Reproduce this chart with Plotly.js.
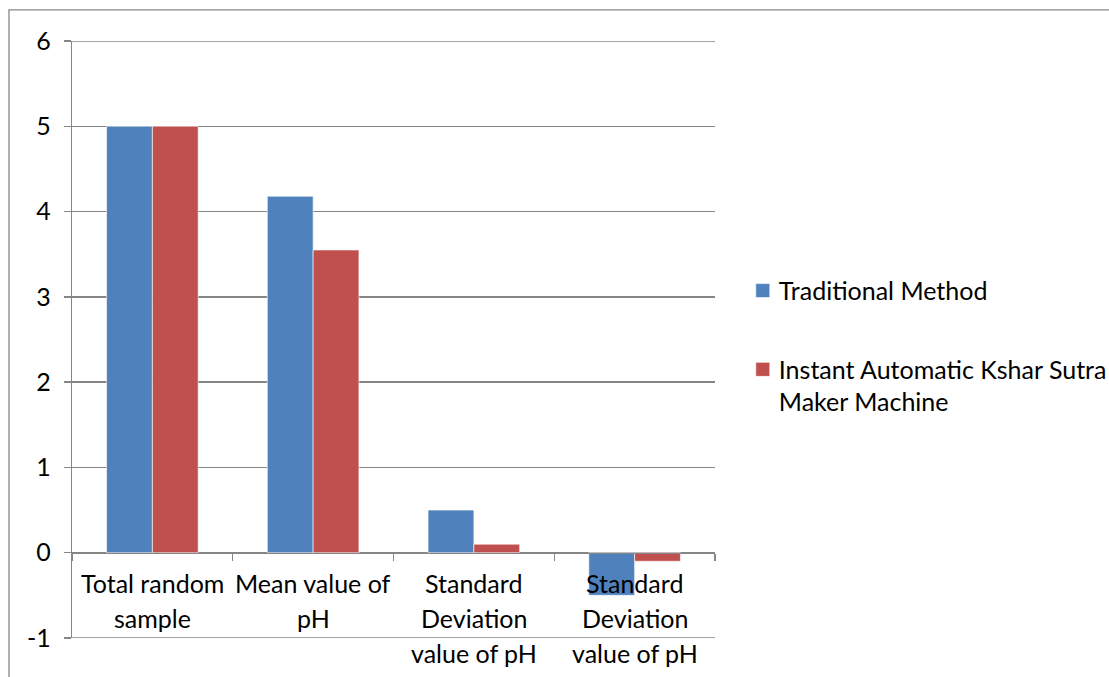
<!DOCTYPE html>
<html>
<head>
<meta charset="utf-8">
<script src="https://cdn.plot.ly/plotly-3.0.1.min.js"></script>
<style>html,body{margin:0;padding:0;background:#fff;}#chart{width:1109px;height:677px;}</style>
</head>
<body>
<div id="chart"></div>
<script>
const categories = ["Total random sample", "Mean value of pH", "Standard Deviation value of pH (1)", "Standard Deviation value of pH (2)"];
const categoryLabelLines = [["Total random", "sample"], ["Mean value of", "pH"], ["Standard", "Deviation", "value of pH"], ["Standard", "Deviation", "value of pH"]];
const traditional = [5, 4.18, 0.5, -0.5];
const instant = [5, 3.55, 0.1, -0.1];
const seriesNames = ["Traditional Method", "Instant Automatic Kshar Sutra<br>Maker Machine"];
const yTicks = [-1, 0, 1, 2, 3, 4, 5, 6];
const yMin = -1, yMax = 6;

const FONT = "Lato, 'Open Sans', sans-serif";
const FS = 25;
const GRID = "#868686";

const traces = [
  {type: "bar", x: categories, y: traditional, name: seriesNames[0], legendgroup: "a",
   marker: {color: "#4F81BD", line: {color: "rgba(255,255,255,0.6)", width: 1}}},
  {type: "bar", x: categories, y: instant, name: seriesNames[1], legendgroup: "b",
   marker: {color: "#C0504D", line: {color: "rgba(255,255,255,0.6)", width: 1}}}
];

const annotations = [];
categories.forEach((c, i) => {
  categoryLabelLines[i].forEach((line, k) => {
    annotations.push({
      x: c, y: 0, xref: "x", yref: "y", text: line, showarrow: false,
      yanchor: "top", yshift: -13 - k * 35, font: {family: FONT, size: FS, color: "#000"}, align: "center"
    });
  });
});

const edgeGrid = [yMin, yMax].map(v => ({type: "line", xref: "paper", yref: "y", x0: 0, x1: 1, y0: v, y1: v,
  line: {color: GRID, width: 1.3}, layer: "below"}));

const layout = {
  width: 1109, height: 677,
  margin: {l: 72, r: 394, t: 41, b: 39, autoexpand: false},
  paper_bgcolor: "#fff", plot_bgcolor: "#fff",
  barmode: "group", bargap: 0.43, bargroupgap: 0,
  font: {family: FONT, size: FS, color: "#000"},
  showlegend: true,
  legend: {x: 1.037, xanchor: "left", y: 0.62, yanchor: "top", traceorder: "grouped",
           tracegroupgap: 43, font: {family: FONT, size: FS, color: "#000"}, bgcolor: "rgba(0,0,0,0)"},
  xaxis: {type: "category", anchor: "free", position: 1/7, showline: true, linecolor: GRID, linewidth: 1.3,
          ticks: "outside", tickson: "boundaries", ticklen: 7, tickcolor: GRID, tickwidth: 1.3,
          showticklabels: false, showgrid: false, zeroline: false, fixedrange: true},
  yaxis: {range: [yMin, yMax], domain: [0, 1], tickvals: yTicks, ticktext: yTicks.map(String),
          showline: true, linecolor: GRID, linewidth: 1.3, ticks: "outside", ticklen: 7, tickcolor: GRID, tickwidth: 1.3,
          showgrid: true, gridcolor: GRID, gridwidth: 1.3, zeroline: false,
          tickfont: {family: FONT, size: FS, color: "#000"}, ticklabelstandoff: 8},
  annotations: annotations,
  shapes: [{type: "rect", xref: "paper", yref: "paper", x0: -0.098, x1: 1.7, y0: -0.2, y1: 1.052,
            line: {color: "#888", width: 1.3}, fillcolor: "rgba(0,0,0,0)", layer: "below"}].concat(edgeGrid)
};

Plotly.newPlot("chart", traces, layout, {displayModeBar: false, staticPlot: true}).then(() => {
  const pts = document.querySelectorAll(".legend .traces");
  pts.forEach((t, i) => {
    const p = t.querySelector(".legendpoints path");
    if (!p) return;
    const dy = i === 0 ? 0 : -16;
    p.setAttribute("d", "M11," + (7 + dy) + "H-3V" + (-7 + dy) + "H11Z");
  });
});
</script>
</body>
</html>
